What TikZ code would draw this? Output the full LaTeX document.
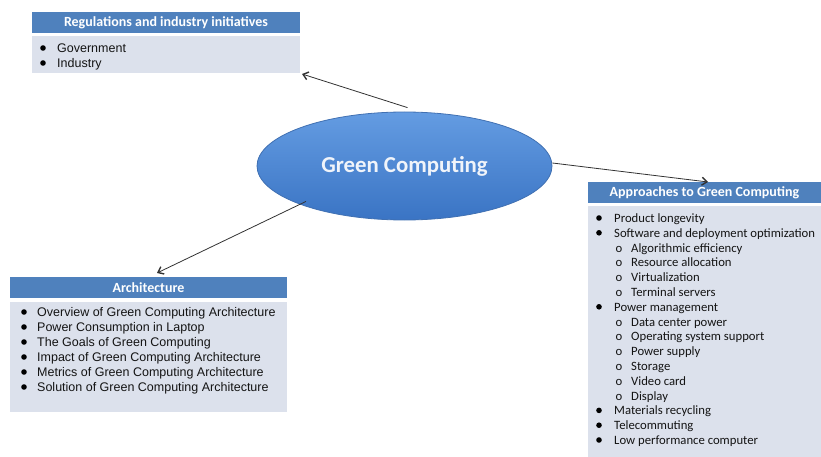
\documentclass[tikz,border=0pt]{standalone}
\usepackage{fontspec}
\setmainfont{Liberation Sans}
\newfontfamily\calfont{Carlito}
\usetikzlibrary{shapes.geometric,arrows.meta}
\definecolor{hblue}{RGB}{79,129,189}
\definecolor{bfill}{RGB}{220,225,236}
\definecolor{elltop}{RGB}{100,156,226}
\definecolor{ellbot}{RGB}{58,116,196}
\definecolor{elldraw}{RGB}{64,112,178}
\definecolor{elltext}{RGB}{240,244,250}
\definecolor{conncol}{RGB}{50,50,50}
\definecolor{txt}{RGB}{20,20,20}
\tikzset{
  headbox/.style={fill=hblue, draw=none, inner sep=0, text=white, font=\calfont\bfseries\fontsize{14}{16}\selectfont},
  bodybox/.style={fill=bfill, draw=none, inner sep=0},
  aitem/.style={anchor=west, inner sep=0, text height=10pt, text depth=1pt, text=txt, font=\fontsize{12.5}{14}\selectfont},
  citem/.style={anchor=west, inner sep=0, text height=10pt, text depth=1pt, text=txt, font=\calfont\fontsize{12.7}{14}\selectfont},
  bul/.style={fill=black},
  conn/.style={draw=conncol, line width=0.8pt, -{Straight Barb[length=5pt,width=8pt,line width=1.4pt]}}
}
\begin{document}
\begin{tikzpicture}[x=1pt,y=-1pt]
\useasboundingbox (0,0) rectangle (821,457);
% Regulations
\node[headbox, minimum width=268pt, minimum height=21pt] (reghead) at (166,22.5) {Regulations and industry initiatives};
\node[bodybox, minimum width=268pt, minimum height=37pt] (regbody) at (166,55) {};
\node[aitem] (r1) at (57,48) {Government};
\node[aitem] (r2) at (57,63) {Industry};
\fill[bul] (43,48) circle (2.8pt);
\fill[bul] (43,63) circle (2.8pt);
% Architecture
\node[headbox, minimum width=277pt, minimum height=21pt] (archhead) at (148.5,287.5) {Architecture};
\node[bodybox, minimum width=277pt, minimum height=110pt] (archbody) at (148.5,357) {};
\node[aitem] (a1) at (37,312) {Overview of Green Computing Architecture};
\node[aitem] (a2) at (37,327) {Power Consumption in Laptop};
\node[aitem] (a3) at (37,342) {The Goals of Green Computing};
\node[aitem] (a4) at (37,357) {Impact of Green Computing Architecture};
\node[aitem] (a5) at (37,372) {Metrics of Green Computing Architecture};
\node[aitem] (a6) at (37,387) {Solution of Green Computing Architecture};
\foreach \yy in {312,327,342,357,372,387} \fill[bul] (24,\yy) circle (2.8pt);
% Approaches
\node[headbox, minimum width=233pt, minimum height=21pt] (apphead) at (704.5,192.5) {Approaches to Green Computing};
\node[bodybox, minimum width=233pt, minimum height=251pt] (appbody) at (704.5,331.5) {};
\node[citem] (p1) at (614,218) {Product longevity};
\node[citem] (p2) at (614,232.8) {Software and deployment optimization};
\node[citem] (p3) at (631,247.6) {Algorithmic efficiency};
\node[citem] (p4) at (631,262.4) {Resource allocation};
\node[citem] (p5) at (631,277.2) {Virtualization};
\node[citem] (p6) at (631,292) {Terminal servers};
\node[citem] (p7) at (614,306.8) {Power management};
\node[citem] (p8) at (631,321.6) {Data center power};
\node[citem] (p9) at (631,336.4) {Operating system support};
\node[citem] (p10) at (631,351.2) {Power supply};
\node[citem] (p11) at (631,366) {Storage};
\node[citem] (p12) at (631,380.8) {Video card};
\node[citem] (p13) at (631,395.6) {Display};
\node[citem] (p14) at (614,410.4) {Materials recycling};
\node[citem] (p15) at (614,425.2) {Telecommuting};
\node[citem] (p16) at (614,440) {Low performance computer};
\foreach \yy in {218,232.8,306.8,410.4,425.2,440} \fill[bul] (599,\yy) circle (2.8pt);
\foreach \yy in {247.6,262.4,277.2,292,321.6,336.4,351.2,366,380.8,395.6}
  \node[citem, anchor=center] at (619,\yy) {o};
% Central ellipse
\node[ellipse, minimum width=295pt, minimum height=108pt, inner sep=0,
      top color=elltop, bottom color=ellbot, draw=elldraw, line width=0.8pt,
      text=elltext, font=\calfont\bfseries\fontsize{22.8}{24}\selectfont] (gc) at (404.5,166) {Green Computing};
% Connectors
\coordinate (tipR) at (302,74);
\coordinate (tipA) at (157,273);
\coordinate (tipP) at (708,182);
\draw[conn] ([shift={(3pt,4pt)}]gc.north) -- (tipR);
\draw[conn] ([shift={(6pt,3pt)}]gc.south west) -- (tipA);
\draw[conn] ([yshift=3pt]gc.east) -- (tipP);
\end{tikzpicture}
\end{document}
